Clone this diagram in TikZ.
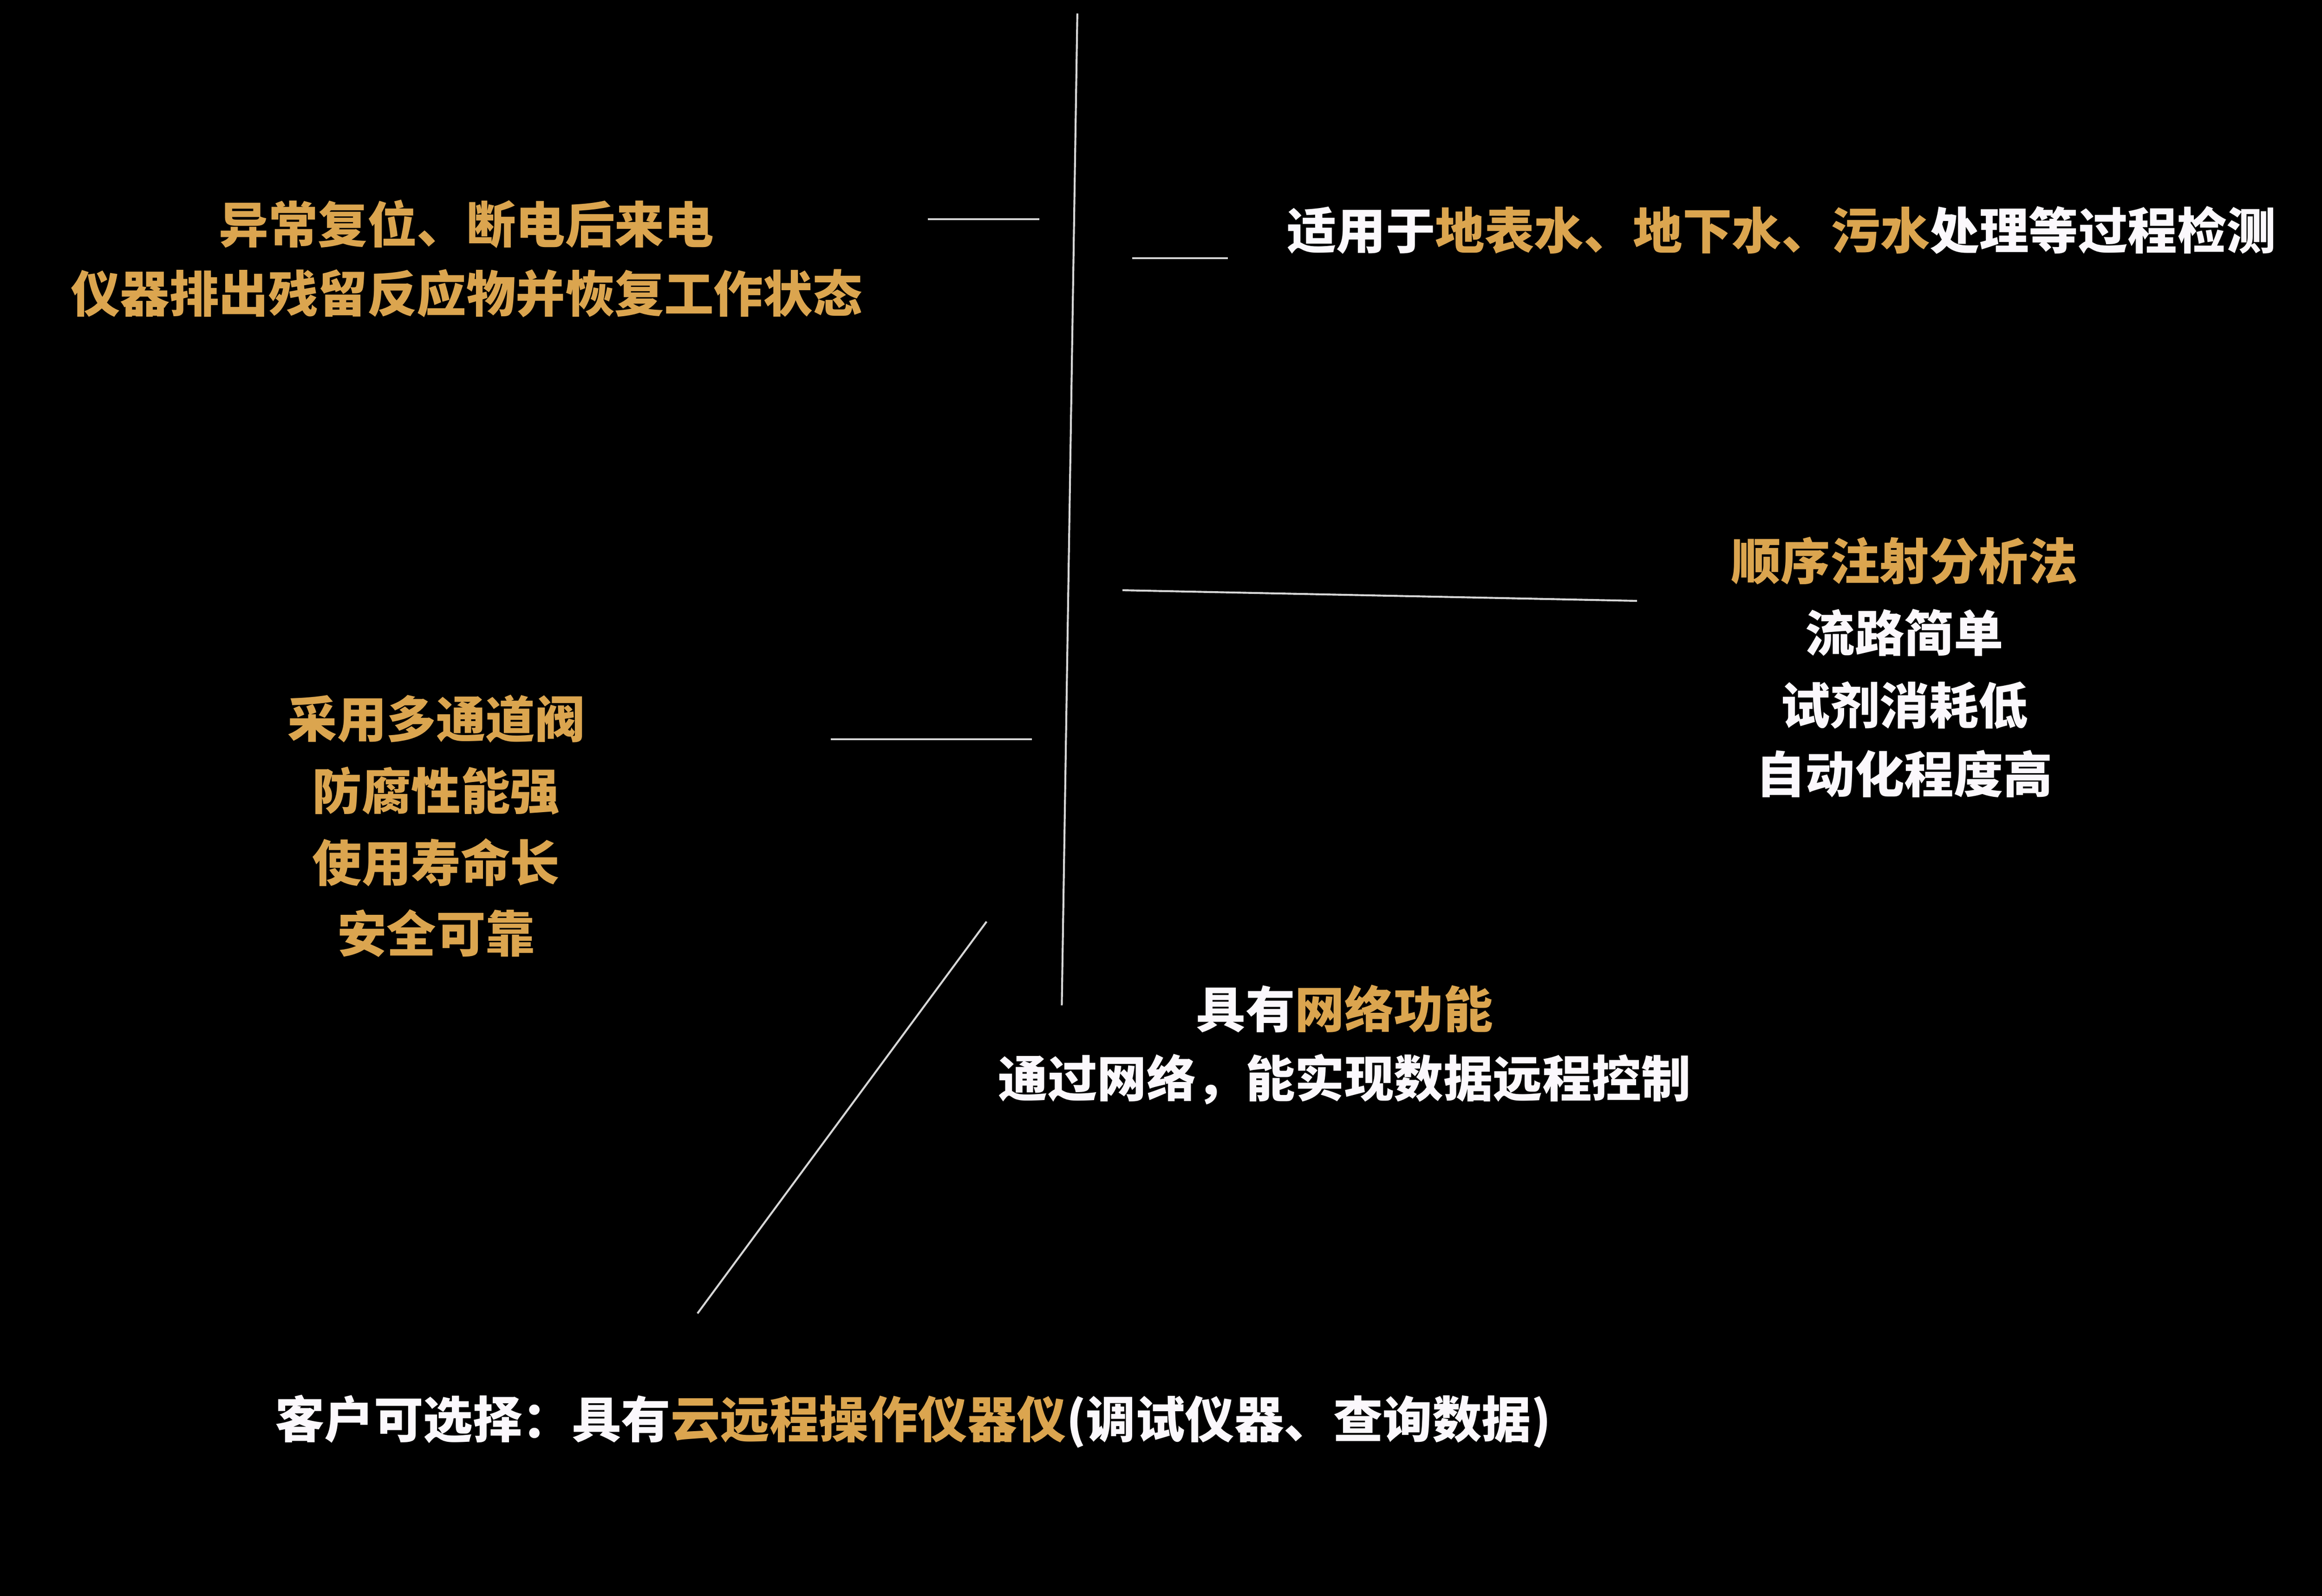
\documentclass[tikz,border=0pt]{standalone}
\usepackage{fontspec}
\newfontfamily\cjk{Noto Sans CJK SC}
\definecolor{gold}{HTML}{DBA54F}
\definecolor{txtw}{HTML}{FBF8FC}
\definecolor{linec}{HTML}{D6D6D6}
\begin{document}
\begin{tikzpicture}[x=1pt,y=-1pt,
  txt/.style={inner sep=0pt,anchor=base,font=\cjk\bfseries\fontsize{33.4}{40}\selectfont},
  gt/.style={txt,text=gold},
  wt/.style={txt,text=txtw},
  lead/.style={draw=linec,line width=1.3pt}]
\fill[black] (0,0) rectangle (1568,1077.84);
\useasboundingbox (0,0) rectangle (1568,1077.84);

% left top
\node[gt] (lt1) at (315,164.2) {异常复位、断电后来电};
\node[gt] (lt2) at (315,210.8) {仪器排出残留反应物并恢复工作状态};

% right top
\node[wt] (rt1) at (1203,168.1) {适用于\textcolor{gold}{地表水、地下水、污水}处理等过程检测};

% right middle
\node[gt] (rm1) at (1286,391.5) {顺序注射分析法};
\node[wt] (rm2) at (1286,440.1) {流路简单};
\node[wt] (rm3) at (1286,488.9) {试剂消耗低};
\node[wt] (rm4) at (1286,535.5) {自动化程度高};

% left middle
\node[gt] (lm1) at (294.5,498.2) {采用多通道阀};
\node[gt] (lm2) at (294.5,546.7) {防腐性能强};
\node[gt] (lm3) at (294.5,595.4) {使用寿命长};
\node[gt] (lm4) at (294.5,642.9) {安全可靠};

% network
\node[wt] (nw1) at (908,694.2) {具有\textcolor{gold}{网络功能}};
\node[wt] (nw2) at (908,741.0) {通过网络，能实现数据远程控制};

% bottom
\node[wt,anchor=base west] (bt) at (185.5,971.0) {客户可选择：具有\textcolor{gold}{云远程操作仪器仪}(调试仪器、查询数据)};

% lines
\coordinate (vtop) at (727.5,9.1);
\coordinate (vbot) at (717,679);
\coordinate (a1) at (626.6,147.9);
\coordinate (a2) at (701.7,147.9);
\coordinate (b1) at (764.5,174.3);
\coordinate (b2) at (829,174.3);
\coordinate (c1) at (758,398.6);
\coordinate (c2) at (1105.4,405.8);
\coordinate (d1) at (561,499.2);
\coordinate (d2) at (696.8,499.2);
\coordinate (e1) at (666.2,622.4);
\coordinate (e2) at (471,887);

\draw[lead] (vtop) -- (vbot);
\draw[lead] (a1) -- (a2);
\draw[lead] (b1) -- (b2);
\draw[lead] (c1) -- (c2);
\draw[lead] (d1) -- (d2);
\draw[lead] (e1) -- (e2);
\end{tikzpicture}
\end{document}
